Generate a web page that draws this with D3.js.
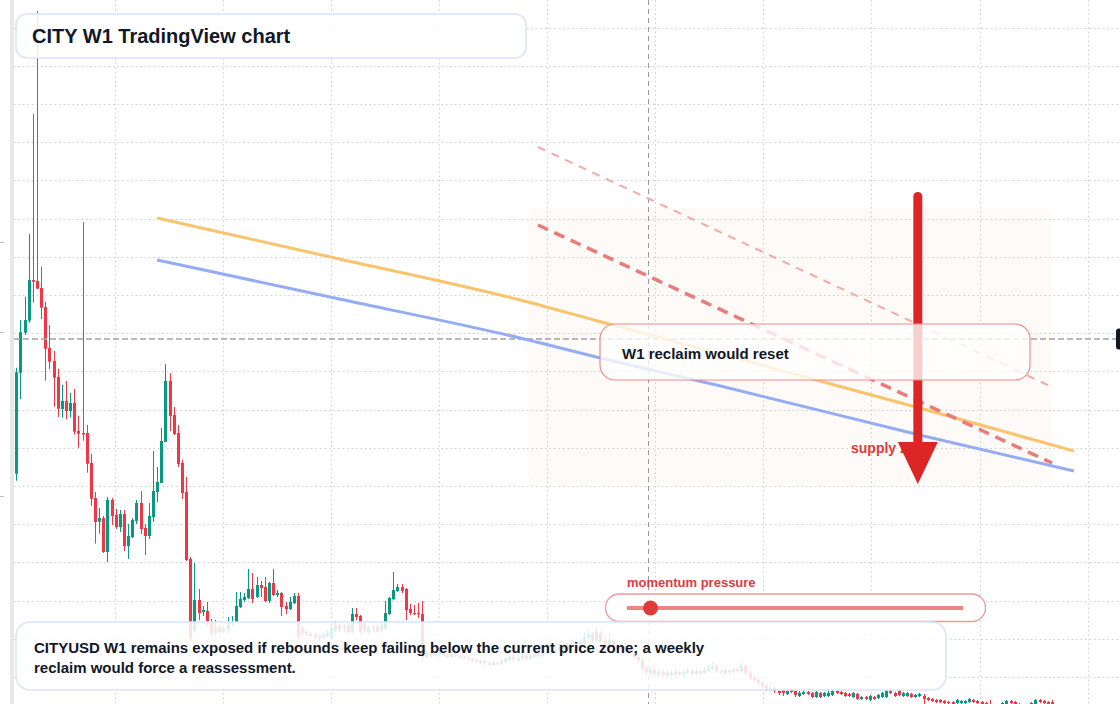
<!DOCTYPE html>
<html><head><meta charset="utf-8">
<script src="https://cdn.jsdelivr.net/npm/d3@7"></script>
<style>html,body{margin:0;padding:0;background:#fff;overflow:hidden;} svg{display:block;font-family:"Liberation Sans",Arial,sans-serif;}</style>
</head><body><svg id="c" width="1120" height="704"></svg>
<script>
// ---- data (weekly candles, index 0..250) ----
const opens=[
25.03,35.13,39.13,40.33,44.4,44.3,43.6,41.7,37.6,36.3,
34.7,31.5,32.3,31.3,32.1,29.3,29.1,29.1,26.1,22.6,
20.23,20.6,17.2,22.4,20.9,19.7,21.0,17.8,18.7,20.3,
22.1,19.6,18.8,20.7,23.2,24.1,28.2,34.3,30.9,29.1,
26.1,23.2,16.5,9.4,12.4,11.2,11.3,10.2,9.1,9.7,
9.3,9.4,10.0,10.2,11.7,12.4,12.6,13.5,12.7,13.9,
13.7,12.3,14.1,12.9,13.1,11.8,11.5,12.1,12.8,9.6,
9.2,8.8,9.0,8.5,8.7,8.8,8.6,9.4,9.9,9.6,
9.8,9.2,11.0,10.8,10.0,9.2,9.7,9.7,9.4,9.5,
11.0,12.5,13.3,13.7,13.5,11.5,11.1,11.1,11.0,6.7,
7.1,6.8,6.9,7.2,6.9,6.7,7.0,6.8,6.7,6.6,
6.5,6.4,6.1,6.3,6.1,5.9,6.1,6.0,6.2,6.4,
6.7,6.4,6.5,6.8,6.5,6.7,7.0,6.8,7.0,7.3,
7.1,7.3,7.7,7.4,7.7,8.0,7.6,8.1,8.6,9.0,
8.4,9.1,8.3,7.9,8.3,7.8,7.4,7.8,7.4,7.1,
6.7,6.4,5.6,5.0,5.4,4.9,5.2,4.8,5.1,4.9,
5.2,4.9,5.1,5.3,5.0,5.3,5.1,5.3,5.5,5.8,
5.3,5.1,5.4,5.2,5.5,5.3,5.8,5.1,4.6,4.4,
4.1,3.8,3.4,3.6,3.3,3.4,3.0,3.4,3.3,2.8,
3.0,3.2,3.1,2.7,3.1,2.8,2.8,2.9,3.3,3.2,
3.1,3.0,2.7,3.0,2.5,2.7,2.4,2.7,2.6,2.7,
2.7,3.3,3.1,3.3,2.8,2.8,3.0,2.7,2.8,2.8,
2.6,2.5,2.4,2.4,2.3,2.2,2.2,2.1,2.1,2.1,
2.2,2.4,2.3,2.2,2.1,2.0,1.8,1.6,1.8,2.0,
2.3,2.2,2.0,1.8,1.6,1.8,2.0,2.4,2.3,2.2,2.2];
const highs=[
35.63,40.4,42.7,49.0,61.0,71.3,45.73,42.23,39.9,37.3,
35.5,33.9,34.3,33.1,33.5,30.83,50.2,29.9,27.0,23.2,
21.6,20.8,22.7,22.6,21.5,21.4,21.4,20.0,20.6,22.4,
23.3,20.0,22.1,27.3,25.7,29.6,36.0,35.1,31.7,29.9,
26.4,24.7,16.7,16.1,13.5,11.8,12.2,10.5,10.4,9.9,
9.9,10.7,10.8,13.2,13.2,13.1,15.5,15.1,14.7,14.3,
14.7,14.2,15.5,13.4,13.2,12.2,12.7,13.1,13.1,9.8,
9.4,9.2,9.1,9.0,9.1,9.4,10.1,10.3,10.2,10.0,
10.0,11.6,11.6,10.9,10.2,9.9,9.9,9.9,10.1,12.3,
12.7,15.2,14.0,14.0,13.6,12.0,11.9,12.1,12.3,7.4,
7.3,7.2,7.5,7.4,7.0,7.2,7.1,6.9,6.8,6.7,
6.6,6.5,6.5,6.4,6.2,6.3,6.2,6.5,6.7,6.9,
6.9,6.8,7.1,7.0,7.0,7.3,7.2,7.4,7.6,7.5,
7.7,8.0,7.9,8.1,8.4,8.2,8.6,9.2,9.4,9.2,
9.6,9.3,8.6,9.1,8.5,8.0,8.1,8.0,7.6,7.3,
6.9,6.6,5.8,5.7,5.6,5.5,5.4,5.4,5.3,5.5,
5.3,5.4,5.6,5.5,5.6,5.4,5.7,5.9,6.2,6.0,
5.5,5.6,5.5,5.7,5.6,6.2,6.0,5.3,4.8,4.6,
4.3,4.0,3.8,3.8,3.5,3.6,3.5,3.5,3.4,3.3,
3.4,3.3,3.2,3.3,3.2,3.2,3.4,3.5,3.4,3.3,
3.2,3.1,3.2,3.1,2.8,2.8,2.9,2.8,3.0,3.2,
3.5,3.6,3.2,3.5,3.2,3.2,3.1,3.0,3.1,3.0,
2.7,2.6,2.5,2.5,2.4,2.3,2.3,2.5,2.4,2.4,
2.6,2.5,2.4,2.3,2.2,2.4,1.9,2.0,2.2,2.4,
2.4,2.3,2.1,1.9,2.0,2.2,2.5,2.5,2.4,2.3,2.4];
const lows=[
24.33,32.5,38.9,40.13,42.13,43.5,40.5,34.33,35.5,31.73,
30.7,30.63,30.47,30.67,28.93,27.63,28.33,25.13,21.8,18.03,
19.03,17.1,16.2,19.9,19.5,19.2,17.3,16.5,18.6,20.0,
19.0,16.9,18.5,20.2,22.2,24.1,28.2,29.3,28.9,25.7,
22.5,16.3,8.2,9.1,10.4,10.8,9.8,8.8,8.9,9.0,
9.1,9.1,9.8,10.1,11.6,12.2,12.5,12.1,12.6,12.7,
12.2,12.1,12.8,12.7,10.8,11.0,11.4,12.0,8.4,8.8,
8.8,8.7,8.5,8.3,8.5,8.7,8.4,9.2,9.2,9.2,
9.0,9.1,10.4,9.0,9.1,9.0,9.2,9.1,9.2,9.4,
10.9,12.4,13.2,13.1,10.4,10.9,10.9,10.6,6.4,6.5,
6.6,6.7,6.8,6.7,6.6,6.6,6.7,6.5,6.5,6.4,
6.2,6.1,6.0,5.9,5.8,5.8,5.8,5.9,6.1,6.3,
6.3,6.3,6.4,6.3,6.4,6.6,6.6,6.7,6.9,6.9,
7.0,7.2,7.2,7.3,7.6,7.4,7.5,8.0,8.4,8.1,
8.3,8.1,7.7,7.8,7.6,7.2,7.3,7.2,6.9,6.5,
6.2,5.4,4.8,4.8,4.8,4.7,4.7,4.6,4.7,4.8,
4.8,4.8,5.0,4.8,4.9,4.9,5.0,5.2,5.4,5.1,
4.9,4.9,5.0,5.1,5.1,5.2,4.9,4.4,4.2,3.9,
3.6,3.3,3.3,3.1,2.9,2.8,2.9,3.1,2.7,2.7,
2.9,2.9,2.6,2.6,2.6,2.7,2.7,2.8,3.0,2.9,
2.7,2.7,2.6,2.4,2.4,2.4,2.3,2.4,2.5,2.6,
2.6,3.0,2.7,2.8,2.7,2.7,2.6,2.6,2.7,2.0,
2.3,2.2,2.1,2.1,1.9,1.9,1.8,2.0,2.0,2.0,
2.1,2.1,2.0,1.9,1.6,1.5,1.4,1.4,1.7,1.9,
2.0,1.9,1.6,1.5,1.5,1.7,1.9,2.1,2.0,1.9,1.9];
const closes=[
35.17,39.17,40.4,44.4,44.23,43.53,41.63,37.53,36.23,34.63,
31.53,32.3,31.3,32.1,29.23,29.03,28.95,26.03,22.53,20.2,
20.6,17.2,22.4,20.8,19.7,21.0,17.8,18.8,20.4,22.1,
19.5,18.8,20.8,23.3,24.2,28.3,34.3,30.8,29.0,26.0,
23.1,16.4,8.6,12.4,11.1,11.4,10.3,9.1,9.7,9.2,
9.6,10.1,10.2,11.8,12.5,12.7,13.5,12.5,13.9,13.6,
12.3,14.1,12.9,13.1,11.7,11.5,12.2,12.8,8.8,9.1,
9.0,9.0,8.6,8.8,8.9,9.1,9.6,9.9,9.5,9.8,
9.2,11.0,10.7,9.2,9.4,9.7,9.6,9.2,9.9,11.1,
12.6,13.4,13.7,13.3,11.4,11.1,11.0,11.0,6.7,7.1,
6.8,7.0,7.2,6.9,6.7,7.0,6.8,6.6,6.6,6.5,
6.3,6.2,6.3,6.1,5.9,6.1,6.0,6.3,6.5,6.7,
6.4,6.6,6.8,6.5,6.8,7.0,6.8,7.1,7.3,7.1,
7.4,7.7,7.4,7.8,8.0,7.6,8.2,8.7,9.0,8.4,
9.2,8.3,7.9,8.4,7.8,7.4,7.8,7.4,7.1,6.7,
6.4,5.6,5.2,5.4,5.0,5.2,4.9,5.1,4.9,5.2,
5.0,5.2,5.3,5.0,5.3,5.1,5.4,5.6,5.8,5.3,
5.1,5.4,5.2,5.5,5.3,5.8,5.1,4.6,4.4,4.1,
3.8,3.5,3.6,3.3,3.1,3.1,3.3,3.2,2.9,3.1,
3.2,3.0,2.7,3.2,2.7,3.1,3.1,3.3,3.1,3.0,
2.8,2.8,3.1,2.5,2.7,2.5,2.8,2.5,2.9,3.1,
3.3,3.1,2.8,2.9,3.1,3.1,2.7,2.9,3.0,2.5,
2.4,2.3,2.2,2.2,2.1,2.1,2.0,2.4,2.3,2.3,
2.5,2.2,2.1,2.0,1.8,1.7,1.6,1.9,2.1,2.3,
2.1,2.0,1.7,1.6,1.9,2.1,2.4,2.2,2.1,2.0,2.0];

// grid / overlays (in data units: candle index, price)
const gridPrices=[4.7,8.52,12.34,16.16,19.98,23.8,27.62,31.44,35.26,39.08,42.9,46.72,50.54,54.36,58.18,62.0,65.82,69.64];
const gridIdx=[23.8,49.9,75.9,102,128.1,154.2,180.3,206.4,232.5,258.6];
const crossIdx=152.5, crossPrice=38.5;
const maIdx=[34,78,121.6,141,170,218,255.3];
const maOrange=[50.6,46.5,42.4,40.23,37.0,31.6,27.3];
const maBlue=[46.4,42.5,38.6,36.6,33.8,28.9,25.3];
const trendIdx=[125.9,250];
const trendBold=[49.9,26.1];
const trendLight=[57.7,33.7];
const zoneIdx=[123.3,250], zonePrice=[51.6,24.1];
const arrowIdx=217.6, arrowFrom=52.75, arrowTo=24.0;
const momentumValue=0.07;

const svg=d3.select("#c");
const x=d3.scaleLinear().domain([0,250]).range([16.3,1052.05]);
const y=d3.scaleLinear().domain([0,72.4]).range([724,0]);

svg.append("rect").attr("width",1120).attr("height",704).attr("fill","#fff");

// grid
const g=svg.append("g").attr("stroke","#cfcfcf").attr("stroke-width",1).attr("stroke-dasharray","1.5,3");
g.selectAll("line.h").data(gridPrices).join("line").attr("class","h")
 .attr("x1",14).attr("x2",1120).attr("y1",d=>Math.round(y(d))+0.5).attr("y2",d=>Math.round(y(d))+0.5);
g.selectAll("line.v").data(gridIdx).join("line").attr("class","v")
 .attr("y1",0).attr("y2",704).attr("x1",d=>Math.round(x(d))+0.5).attr("x2",d=>Math.round(x(d))+0.5);

// supply zone
svg.append("rect").attr("x",x(zoneIdx[0])).attr("y",y(zonePrice[0]))
 .attr("width",x(zoneIdx[1])-x(zoneIdx[0])).attr("height",y(zonePrice[1])-y(zonePrice[0]))
 .attr("rx",12).attr("fill","rgba(245,170,120,0.06)");

// candles
const data=d3.range(opens.length).map(i=>({i,o:opens[i],h:highs[i],l:lows[i],c:closes[i]}));
const up="#089981", dn="#f23645";
const cg=svg.append("g");
cg.selectAll("line").data(data).join("line")
 .attr("x1",d=>Math.round(x(d.i))+0.5).attr("x2",d=>Math.round(x(d.i))+0.5)
 .attr("y1",d=>y(d.h)).attr("y2",d=>y(d.l))
 .attr("stroke",d=>d.c>=d.o?up:dn).attr("stroke-width",1);
cg.selectAll("rect").data(data).join("rect")
 .attr("x",d=>Math.round(x(d.i))-1).attr("width",3)
 .attr("y",d=>y(Math.max(d.o,d.c)))
 .attr("height",d=>Math.max(1.2,Math.abs(y(d.o)-y(d.c))))
 .attr("fill",d=>d.c>=d.o?up:dn);

// crosshair
svg.append("line").attr("x1",Math.round(x(crossIdx))+0.5).attr("x2",Math.round(x(crossIdx))+0.5)
 .attr("y1",0).attr("y2",704).attr("stroke","#9a9a9a").attr("stroke-width",1).attr("stroke-dasharray","5,4");
svg.append("line").attr("x1",14).attr("x2",1120).attr("y1",y(crossPrice)).attr("y2",y(crossPrice))
 .attr("stroke","#a3a3a3").attr("stroke-width",1.3).attr("stroke-dasharray","6,3");

// moving averages
const ma=d3.line().x((d,i)=>x(maIdx[i])).y(d=>y(d)).curve(d3.curveMonotoneX);
svg.append("path").attr("d",ma(maOrange)).attr("fill","none").attr("stroke","#fbc36c").attr("stroke-width",3);
svg.append("path").attr("d",ma(maBlue)).attr("fill","none").attr("stroke","#94acf4").attr("stroke-width",3);

// trend lines
const tl=d3.line().x((d,i)=>x(trendIdx[i])).y(d=>y(d));
svg.append("path").attr("d",tl(trendLight)).attr("fill","none").attr("stroke","#f3a9a9").attr("stroke-width",2).attr("stroke-dasharray","8,7");
svg.append("path").attr("d",tl(trendBold)).attr("fill","none").attr("stroke","#ea7b7b").attr("stroke-width",3.5).attr("stroke-dasharray","11,7");

// supply zone label
svg.append("text").attr("x",851).attr("y",453).attr("font-size",14).attr("font-weight","bold")
 .attr("fill","#e03a3e").text("supply zone");

// arrow
const ax=x(arrowIdx), tipY=y(arrowTo), baseY=tipY-42;
svg.append("line").attr("x1",ax).attr("x2",ax).attr("y1",y(arrowFrom)).attr("y2",baseY+2)
 .attr("stroke","#dc2626").attr("stroke-width",9).attr("stroke-linecap","round");
svg.append("path").attr("d",`M${ax-20},${baseY}L${ax+20},${baseY}L${ax},${tipY}Z`).attr("fill","#dc2626");

// W1 reclaim box
svg.append("rect").attr("x",600).attr("y",324).attr("width",430).attr("height",56).attr("rx",15)
 .attr("fill","rgba(255,255,255,0.78)").attr("stroke","#ee8c8c").attr("stroke-width",1.2);
svg.append("text").attr("x",622).attr("y",359).attr("font-size",15).attr("font-weight","bold")
 .attr("fill","#111827").text("W1 reclaim would reset");

// momentum pressure
svg.append("text").attr("x",627).attr("y",587).attr("font-size",13).attr("font-weight","bold")
 .attr("fill","#e03a3e").text("momentum pressure");
svg.append("rect").attr("x",605.5).attr("y",594).attr("width",380).attr("height",27.5).attr("rx",13.75)
 .attr("fill","rgba(255,255,255,0.9)").attr("stroke","#f09a9a").attr("stroke-width",1.3);
const mx=d3.scaleLinear().domain([0,1]).range([627,963]);
svg.append("line").attr("x1",mx(0)).attr("x2",mx(1)).attr("y1",608).attr("y2",608)
 .attr("stroke","#ee8585").attr("stroke-width",4);
svg.append("circle").attr("cx",mx(momentumValue)).attr("cy",608).attr("r",7.5).attr("fill","#e03b3b");

// title box
svg.append("rect").attr("x",16).attr("y",14).attr("width",510).attr("height",44).attr("rx",11)
 .attr("fill","rgba(255,255,255,0.88)").attr("stroke","#d9e5f8").attr("stroke-width",1.6);
svg.append("text").attr("x",32).attr("y",43).attr("font-size",20).attr("font-weight","bold")
 .attr("fill","#111827").text("CITY W1 TradingView chart");

// bottom annotation
svg.append("rect").attr("x",16).attr("y",622).attr("width",930).attr("height",68).attr("rx",14)
 .attr("fill","rgba(255,255,255,0.86)").attr("stroke","#d9e5f8").attr("stroke-width",1.6);
const noteLines=["CITYUSD W1 remains exposed if rebounds keep failing below the current price zone; a weekly","reclaim would force a reassessment."];
svg.selectAll("text.note").data(noteLines).join("text").attr("class","note")
 .attr("x",34).attr("y",(d,i)=>653+i*20).attr("font-size",15).attr("font-weight","bold")
 .attr("fill","#111827").text(d=>d);

// left border bar and ticks
svg.append("rect").attr("x",10).attr("y",0).attr("width",4).attr("height",704).attr("fill","#e8e8e8");
svg.selectAll("line.tk").data([242,332,496]).join("line").attr("class","tk")
 .attr("x1",0).attr("x2",4).attr("y1",d=>d+0.5).attr("y2",d=>d+0.5).attr("stroke","#bdbdbd");

// right price label (clipped)
svg.append("rect").attr("x",1116).attr("y",y(crossPrice)-10.5).attr("width",20).attr("height",21).attr("rx",3).attr("fill","#131722");
</script></body></html>
